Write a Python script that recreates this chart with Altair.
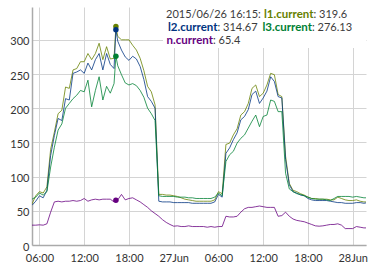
import altair as alt
import pandas as pd

# ---- data (30-minute samples starting 2015-06-26 05:00) ----
START = "2015-06-26 05:00"
SERIES = ["l1.current", "l2.current", "l3.current", "n.current"]
COLORS = ["#668000", "#003380", "#008033", "#660080"]

L1 = [60, 72, 78, 76, 85, 140, 165, 192, 197, 231, 229, 256, 258, 268, 268, 280, 271, 280, 295, 271,
      290, 272, 273, 305, 300, 300, 300, 292, 285, 273, 255, 232, 224, 205, 74, 74, 73, 73, 72, 71,
      69, 67, 66, 65, 64, 64, 64, 64, 64, 66, 78, 75, 147, 149, 161, 170, 190, 195, 207, 229,
      234, 217, 222, 234, 251, 249, 220, 217, 130, 90, 80, 78, 75, 73, 70, 68, 68, 67, 67, 67,
      66, 66, 70, 68, 66, 65, 65, 66, 64, 63, 63]
L2 = [58, 64, 72, 69, 80, 131, 160, 185, 182, 214, 212, 251, 253, 256, 251, 266, 256, 271, 280, 256,
      280, 264, 258, 298, 285, 275, 270, 276, 272, 261, 242, 217, 210, 200, 64, 63, 63, 63, 62, 62,
      62, 62, 62, 61, 61, 61, 61, 61, 61, 63, 74, 70, 134, 142, 154, 164, 183, 188, 198, 220,
      225, 207, 215, 225, 246, 239, 217, 215, 125, 88, 78, 76, 73, 72, 68, 66, 65, 65, 65, 65,
      64, 63, 62, 62, 61, 61, 61, 62, 62, 61, 62]
L3 = [67, 70, 76, 73, 78, 114, 143, 168, 177, 200, 207, 214, 219, 226, 224, 241, 202, 226, 246, 212,
      232, 222, 236, 262, 249, 237, 234, 236, 233, 226, 216, 200, 192, 182, 72, 71, 71, 71, 71, 70,
      70, 70, 69, 69, 68, 68, 68, 68, 68, 70, 76, 72, 122, 132, 137, 149, 156, 161, 171, 181,
      190, 173, 188, 190, 212, 210, 195, 195, 105, 82, 78, 75, 74, 72, 70, 68, 67, 67, 67, 66,
      65, 68, 71, 71, 71, 71, 70, 71, 70, 69, 69]
N = [29, 29, 29.5, 29, 31, 48, 63, 64, 63, 64, 64, 65, 64, 65, 68, 64, 66, 67, 66, 67,
     67, 67, 63, 66, 74, 66, 68, 69, 66, 63, 59, 55, 50, 46, 42, 37, 33, 30, 27.5, 28,
     27, 27, 28, 27, 27, 27, 27, 26, 27, 26, 27, 27, 42, 41, 41, 42, 48, 53, 55, 55,
     56, 57, 56, 55, 55, 55, 42, 43, 48, 42, 38, 36, 35, 34, 32, 30, 28, 27.5, 28, 29,
     30, 30, 31, 29, 24, 24, 24, 27, 26, 25, 25]

# highlighted sample shown in the legend
HL_TIME = "2015-06-26 16:15"
HL_VALUES = [319.6, 314.67, 276.13, 65.4]

Y_TICKS = [0, 50, 100, 150, 200, 250, 300]
X_TICK_HOURS = [(26, 6), (26, 12), (26, 18), (27, 0), (27, 6), (27, 12), (27, 18), (28, 0)]

# ---- build table ----
ISO = "%Y-%m-%dT%H:%M:%S"
times = pd.date_range(START, periods=len(L1), freq="30min")
rows = []
for name, vals, hv in zip(SERIES, [L1, L2, L3, N], HL_VALUES):
    for t, v in zip(times, vals):
        rows.append({"time": t.strftime(ISO), "series": name, "value": v})
    rows.append({"time": pd.Timestamp(HL_TIME).strftime(ISO), "series": name, "value": hv})
df = pd.DataFrame(rows).sort_values(["series", "time"]).reset_index(drop=True)
hl = df[df["time"] == pd.Timestamp(HL_TIME).strftime(ISO)].reset_index(drop=True)

FONT = "Lato"
color = alt.Color("series:N", scale=alt.Scale(domain=SERIES, range=COLORS), legend=None)
xdom = [alt.DateTime(year=2015, month=6, date=26, hours=5, minutes=0),
        alt.DateTime(year=2015, month=6, date=28, hours=1, minutes=47)]
xvals = [alt.DateTime(year=2015, month=6, date=d, hours=h) for d, h in X_TICK_HOURS]

x = alt.X("time:T", scale=alt.Scale(domain=xdom),
          axis=alt.Axis(title=None, values=xvals,
                        labelExpr="hours(datum.value)==0 ? timeFormat(datum.value,'%d%b') : timeFormat(datum.value,'%H:%M')",
                        grid=True, gridColor="#d4d4d4", gridWidth=1,
                        domainColor="#aaaaaa", domainWidth=1.5, ticks=False,
                        labelFont=FONT, labelFontSize=11, labelColor="#333333",
                        labelPadding=7, labelFlush=False, labelOverlap=False))
y = alt.Y("value:Q", scale=alt.Scale(domain=[0, 348], nice=False),
          axis=alt.Axis(title=None, values=Y_TICKS, grid=True, gridColor="#d4d4d4", gridWidth=1,
                        domainColor="#aaaaaa", domainWidth=1.5, ticks=False,
                        labelFont=FONT, labelFontSize=11, labelColor="#333333",
                        labelPadding=3, labelOffset=2))

lines = alt.Chart(df).mark_line(strokeWidth=1, strokeOpacity=0.78, clip=True).encode(x=x, y=y, color=color)
dots = alt.Chart(hl).mark_circle(size=30, opacity=1).encode(x=x, y=y, color=color)

# legend box
box = alt.Chart(pd.DataFrame({"a": [0]})).mark_rect(color="white").encode(
    x=alt.value(131), x2=alt.value(334), y=alt.value(0), y2=alt.value(41))

def txt(s, px, py, col, bold=False, align="left"):
    return alt.Chart(pd.DataFrame({"t": [s]})).mark_text(
        align=align, baseline="alphabetic", font=FONT,
        fontSize=11.5 if bold else 11,
        fontWeight="bold" if bold else "normal", color=col).encode(
        text="t:N", x=alt.value(px), y=alt.value(py))

tlabel = pd.Timestamp(HL_TIME).strftime("%Y/%m/%d %H:%M")
GRAY = "#3c3c3c"
fmt = lambda v: f"{v:g}"
legend = [
    txt(tlabel + ":", 134, 11, GRAY),
    txt(SERIES[0], 281.5, 11, COLORS[0], True, "right"),
    txt(": " + fmt(HL_VALUES[0]), 281.5, 11, GRAY),
    txt(SERIES[1], 185.5, 24, COLORS[1], True, "right"),
    txt(": " + fmt(HL_VALUES[1]), 185.5, 24, GRAY),
    txt(SERIES[2], 280, 24, COLORS[2], True, "right"),
    txt(": " + fmt(HL_VALUES[2]), 280, 24, GRAY),
    txt(SERIES[3], 181, 36.5, COLORS[3], True, "right"),
    txt(": " + fmt(HL_VALUES[3]), 181, 36.5, GRAY),
]

chart = alt.layer(lines, dots, box, *legend).properties(
    width=334, height=238,
    padding={"left": 32, "top": 7, "right": 17, "bottom": 27},
    autosize=alt.AutoSizeParams(type="none"),
    background="white",
).configure_view(strokeWidth=0)

chart.save("out.html", embed_options={"renderer": "svg", "actions": False})
